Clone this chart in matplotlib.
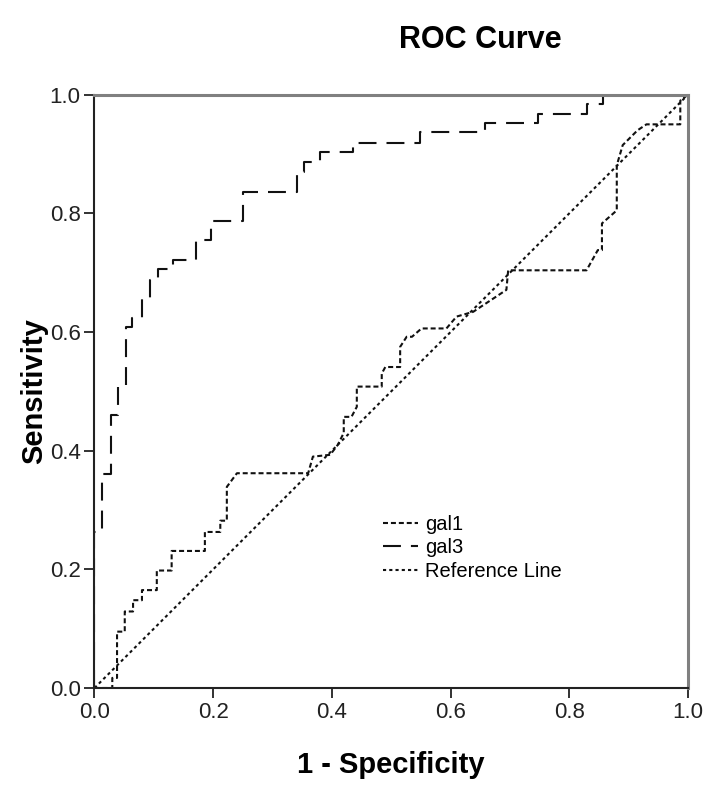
import matplotlib
matplotlib.use("Agg")
import matplotlib.pyplot as plt

plt.rcParams['font.family'] = ['Liberation Sans', 'DejaVu Sans']

# ROC points (1 - specificity, sensitivity)
gal1_fpr = [0.0, 0.03, 0.03, 0.038, 0.038, 0.051, 0.051, 0.065, 0.065, 0.08, 0.08,
            0.105, 0.105, 0.13, 0.13, 0.186, 0.186, 0.212, 0.212, 0.223, 0.223, 0.24,
            0.36, 0.368, 0.397, 0.41, 0.42, 0.42, 0.433, 0.442, 0.442, 0.484, 0.484,
            0.49, 0.515, 0.515, 0.526, 0.535, 0.551, 0.593, 0.61, 0.638, 0.694, 0.697,
            0.829, 0.848, 0.855, 0.855, 0.88, 0.88, 0.89, 0.915, 0.93, 0.987, 0.987, 1.0]
gal1_tpr = [0.0, 0.0, 0.017, 0.017, 0.095, 0.095, 0.129, 0.129, 0.148, 0.148, 0.165,
            0.165, 0.198, 0.198, 0.231, 0.231, 0.263, 0.263, 0.282, 0.282, 0.339, 0.362,
            0.362, 0.39, 0.393, 0.41, 0.43, 0.457, 0.457, 0.474, 0.508, 0.508, 0.53,
            0.541, 0.541, 0.575, 0.592, 0.592, 0.606, 0.606, 0.626, 0.634, 0.671, 0.704,
            0.704, 0.738, 0.738, 0.783, 0.805, 0.881, 0.915, 0.94, 0.95, 0.95, 0.99, 1.0]

gal3_fpr = [0.0, 0.0, 0.013, 0.013, 0.027, 0.027, 0.040, 0.040, 0.0525, 0.0525, 0.064,
            0.064, 0.0795, 0.0795, 0.0935, 0.0935, 0.1075, 0.1075, 0.133, 0.133, 0.171,
            0.171, 0.197, 0.197, 0.251, 0.251, 0.341, 0.341, 0.353, 0.353, 0.380, 0.380,
            0.435, 0.435, 0.548, 0.548, 0.658, 0.658, 0.747, 0.747, 0.829, 0.829, 0.857,
            0.857, 1.0]
gal3_tpr = [0.0, 0.263, 0.263, 0.36, 0.36, 0.46, 0.46, 0.508, 0.508, 0.609, 0.609,
            0.623, 0.623, 0.657, 0.657, 0.687, 0.687, 0.707, 0.707, 0.721, 0.721,
            0.755, 0.755, 0.787, 0.787, 0.836, 0.836, 0.870, 0.870, 0.887, 0.887, 0.904,
            0.904, 0.919, 0.919, 0.937, 0.937, 0.952, 0.952, 0.968, 0.968, 0.985, 0.985,
            1.0, 1.0]

ref_x = [0.0, 1.0]
ref_y = [0.0, 1.0]

ticks = [0.0, 0.2, 0.4, 0.6, 0.8, 1.0]
tick_labels = ["0.0", "0.2", "0.4", "0.6", "0.8", "1.0"]

fig = plt.figure(figsize=(7.12, 7.89), dpi=100)
ax = fig.add_axes([0.1327, 0.128, 0.8336, 0.752])

lw = 1.5
ax.plot(gal1_fpr, gal1_tpr, color='#111111', lw=lw, dashes=(2.4, 1.4), label='gal1')
ax.plot(gal3_fpr, gal3_tpr, color='#111111', lw=lw, dashes=(8.6, 4.8), label='gal3')
ax.plot(ref_x, ref_y, color='#111111', lw=lw, dashes=(1.5, 1.5), label='Reference Line')

ax.set_xlim(0, 1)
ax.set_ylim(0, 1)
ax.set_xticks(ticks)
ax.set_xticklabels(tick_labels)
ax.set_yticks(ticks)
ax.set_yticklabels(tick_labels)
ax.tick_params(direction='out', length=7, width=1.3, labelsize=16, colors='#222222', pad=3)

for side in ['left', 'bottom']:
    ax.spines[side].set_color('#222222')
    ax.spines[side].set_linewidth(1.5)
for side in ['top', 'right']:
    ax.spines[side].set_color('#808080')
    ax.spines[side].set_linewidth(2.2)

ax.set_xlabel("1 - Specificity", fontsize=21, fontweight='bold', labelpad=20)
ax.set_ylabel("Sensitivity", fontsize=21, fontweight='bold', labelpad=1)
fig.text(0.674, 0.949, "ROC Curve", fontsize=22, fontweight='bold', ha='center', va='center')

ax.legend(loc='upper left', bbox_to_anchor=(0.469, 0.309), frameon=False, fontsize=14.5,
          handlelength=1.75, handletextpad=0.35, labelspacing=0.22, borderpad=0)

fig.savefig("out.png", dpi=100)
